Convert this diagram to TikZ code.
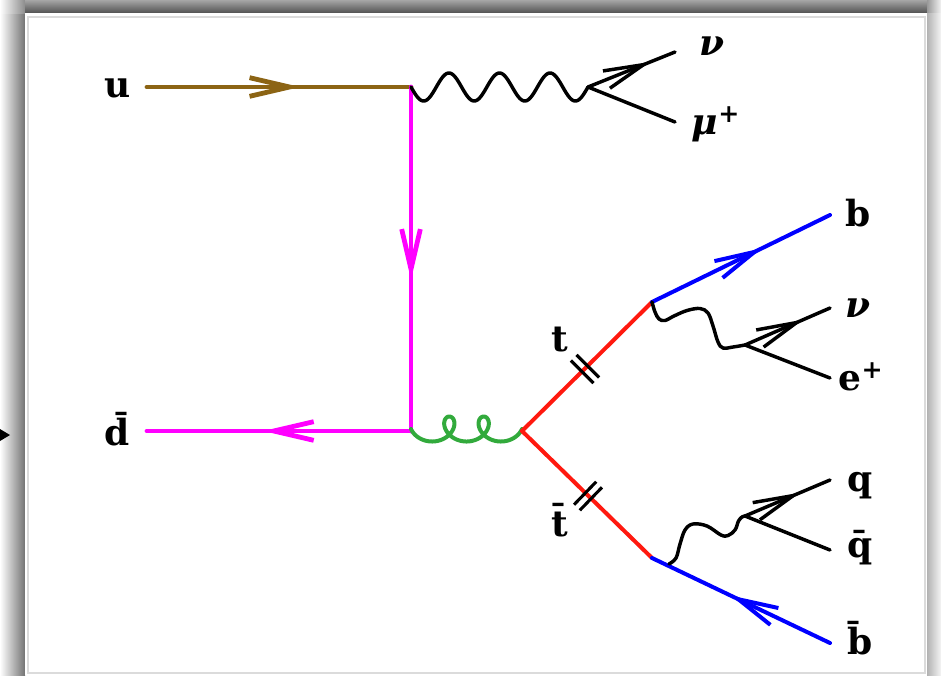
\documentclass[tikz,border=0pt]{standalone}
\usepackage{fontspec}
\setmainfont{DejaVu Serif}
\usetikzlibrary{arrows.meta,decorations.markings,calc}
\definecolor{ubrown}{RGB}{140,100,20}
\definecolor{gluongreen}{RGB}{50,170,60}
\definecolor{topred}{RGB}{255,25,15}
\definecolor{magline}{RGB}{255,0,255}
\definecolor{bline}{RGB}{0,0,255}
\begin{document}
\begin{tikzpicture}[x=0.75pt,y=-0.75pt,
  lbl/.style={font=\fontsize{27}{32}\selectfont\bfseries, inner sep=0pt},
  midarr/.style={postaction={decorate}, decoration={markings, mark=at position #1 with {\arrow{Straight Barb[length=30pt,width=14pt]}}}},
  brownline/.style={draw=ubrown, line width=3.6pt, line cap=round},
  magstyle/.style={draw=magline, line width=3.6pt, line cap=round},
  redline/.style={draw=topred, line width=3pt, line cap=round},
  blueline/.style={draw=bline, line width=3pt, line cap=round},
  gline/.style={draw=gluongreen, line width=3pt, line cap=round},
  blk/.style={draw=black, line width=2.6pt, line cap=round, line join=round},
  barline/.style={draw=black, line width=2.3pt}
]
\useasboundingbox (0,0) rectangle (941,675);
% frame and shadow
\fill[white] (0,0) rectangle (941,675);
\shade[left color=white, right color=black!55] (0,13) rectangle (25,675);
\shade[left color=white, right color=black!45] (0,0) rectangle (25,13);
\shade[top color=black!35, bottom color=black!68] (25,0) rectangle (927,13);
\shade[left color=black!40, right color=black!5] (927,0) rectangle (941,13);
\shade[left color=black!30, right color=black!4] (927,13) rectangle (941,675);
\fill[white] (25,13) rectangle (927,675);
\draw[black!14, line width=1.2pt] (28,17) rectangle (925,673);
\fill[black] (0,429) -- (10,435) -- (0,441) -- cycle;

% coordinates
\coordinate (uin) at (147,87);
\coordinate (V1) at (411,87);
\coordinate (V2) at (411,431);
\coordinate (din) at (147,431);
\coordinate (W1) at (588,87);
\coordinate (nu1) at (675,52);
\coordinate (mu) at (675,122);
\coordinate (G) at (522,431);
\coordinate (T) at (652,302);
\coordinate (Tb) at (652,558);
\coordinate (bend) at (830,215);
\coordinate (W2) at (745,345);
\coordinate (nu2) at (830,308);
\coordinate (e) at (830,378);
\coordinate (W3) at (745,516);
\coordinate (q) at (830,480);
\coordinate (qb) at (830,550);
\coordinate (bbend) at (830,643);
\coordinate (P1) at (585,369);
\coordinate (P2) at (588,496);

% quark lines
\draw[brownline, midarr=0.58] (uin) -- (V1);
\draw[magstyle, midarr=0.56] (V1) -- (V2);
\draw[magstyle, midarr=0.56] (V2) -- (din);

% W boson (top)
\draw[blk] plot[domain=0:1260, samples=180, variable=\t] ({411+\t/360*50.571}, {87+14*sin(\t)});
\draw[blk, midarr=0.72] (W1) -- (nu1);
\draw[blk] (W1) -- (mu);

% gluon
\draw[gline] plot[domain=-90:810, samples=220, variable=\t] ({432.1+5.475*rad(\t)+12.5*sin(\t)}, {429+12.5*cos(\t)});

% top quarks
\draw[redline] (G) -- (T);
\draw[redline] (G) -- (Tb);
\draw[blueline, midarr=0.62] (T) -- (bend);
\draw[blueline, midarr=0.56] (bbend) -- (Tb);

% double bars
\draw[barline] ($(P1)+(-8.5,-14.1)$) -- ($(P1)+(14.1,8.5)$);
\draw[barline] ($(P1)+(-14.1,-8.5)$) -- ($(P1)+(8.5,14.1)$);
\draw[barline] ($(P2)+(-8.2,14.3)$) -- ($(P2)+(14,-8.7)$);
\draw[barline] ($(P2)+(-14,8.7)$) -- ($(P2)+(8.2,-14.3)$);

% W from top
\draw[blk] plot[smooth, tension=0.6] coordinates {(652,302) (655,312) (659,319) (665,320.5) (674,316) (687,310.5) (700,308.5) (708,313) (713,326) (718,342) (723,348) (733,347) (745,345)};
\draw[blk, midarr=0.69] (W2) -- (nu2);
\draw[blk] (W2) -- (e);

% W from antitop
\draw[blk] plot[smooth, tension=0.6] coordinates {(669,564) (676,558) (680,544) (685,530) (693,524) (707,526) (721,535) (728,535.5) (735,530) (738.5,521) (742,517) (745,516)};
\draw[blk, midarr=0.65] (W3) -- (q);
\draw[blk] (W3) -- (qb);

% labels
\node[lbl] (lu) at (118,88) {u};
\node[lbl] (ld) at (117,429) {\=d};
\node[lbl] (lnu1) at (712,46) {\itshape ν};
\node[lbl] (lmu) at (716,124) {\itshape μ\textsuperscript{+}};
\node[lbl] (lb) at (858,213) {b};
\node[lbl] (lnu2) at (858,308) {\itshape ν};
\node[lbl] (le) at (861,377) {e\textsuperscript{+}};
\node[lbl] (lt) at (560,340) {t};
\node[lbl] (ltb) at (560,520) {\=t};
\node[lbl] (lq) at (860,486) {q};
\node[lbl] (lqb) at (860,548) {\=q};
\node[lbl] (lbb) at (860,638) {\=b};
\end{tikzpicture}
\end{document}
